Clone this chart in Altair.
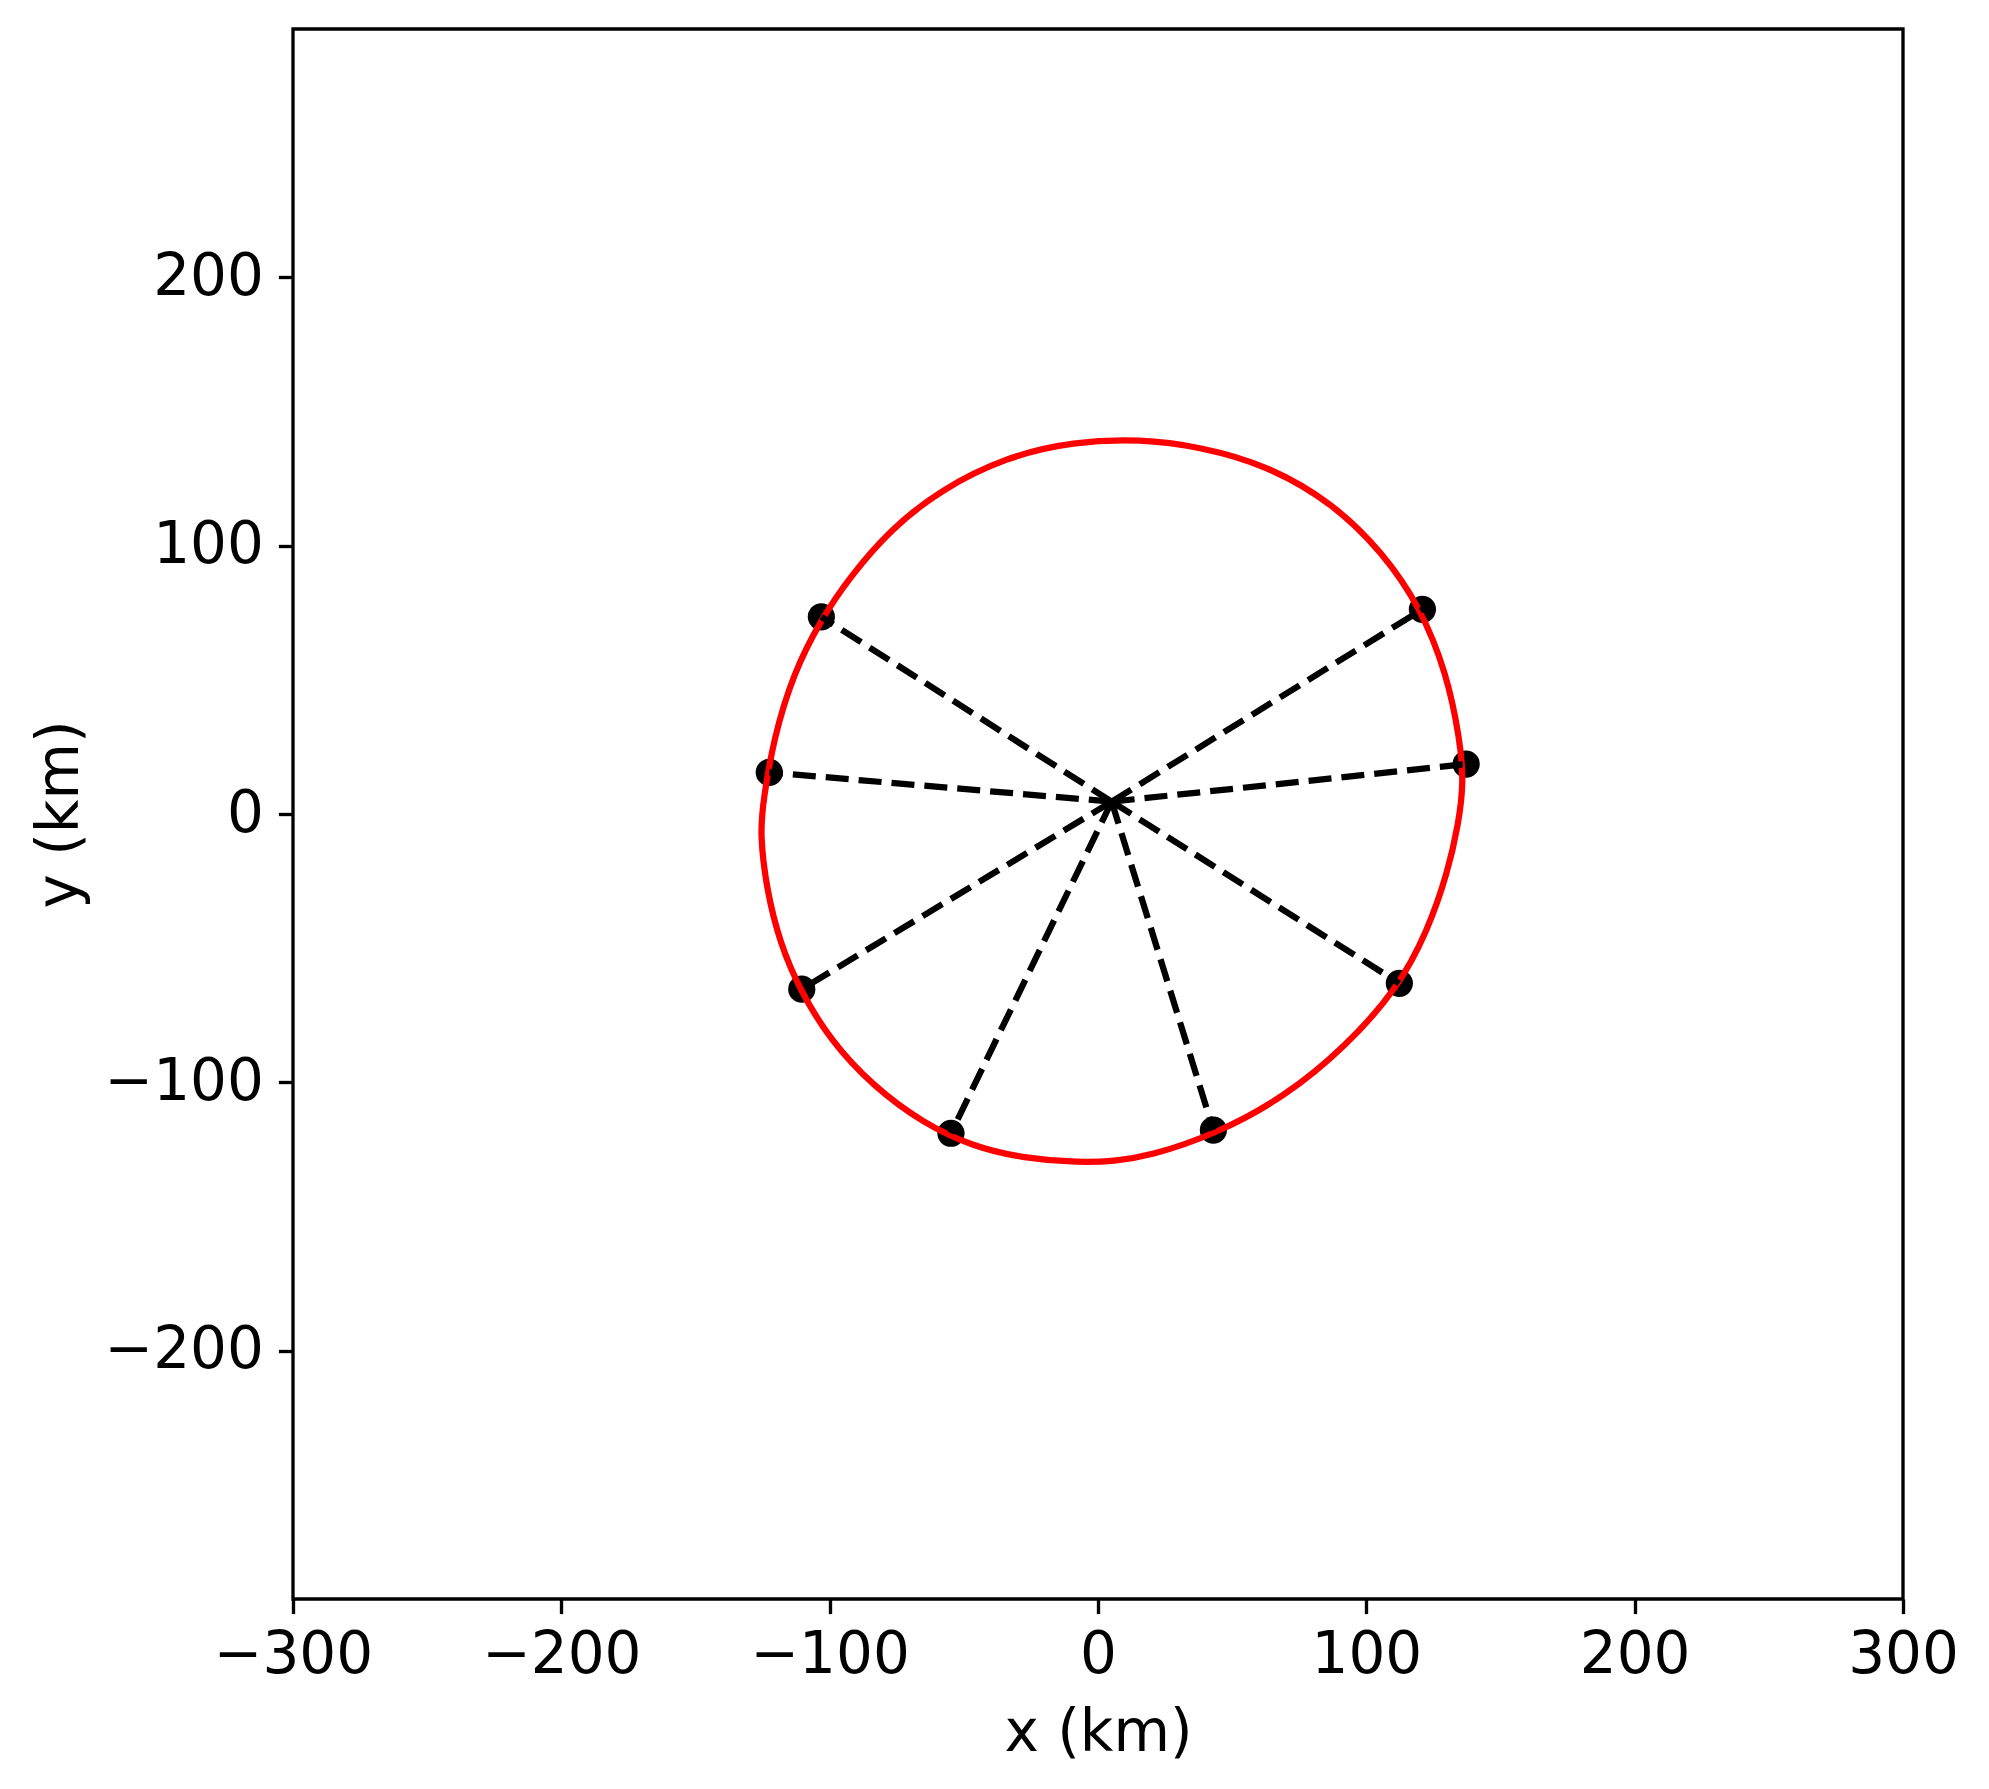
import altair as alt
import pandas as pd

# Stations (black dots) and the common centre of the dashed spokes
station_x = [120.9, 137.2, 112.3, 43.0, -54.8, -110.4, -122.5, -103.1]
station_y = [76.3, 18.6, -63.1, -117.8, -119.0, -65.3, 15.5, 73.5]
center_x = 5.1
center_y = 4.6

# Red closed curve (counter-clockwise)
ellipse_x = [136.3, 134.9, 130.0, 120.0, 106.3, 87.7, 62.9, 38.0, 15.7, -9.2,
             -34.0, -58.9, -77.5, -92.4, -103.0, -113.6, -121.0, -124.7, -126.0,
             -123.5, -118.5, -111.1, -99.9, -83.7, -65.1, -46.5, -27.8, -6.7,
             6.0, 19.4, 43.3, 69.8, 92.4, 111.8, 122.8, 130.2, 134.4]
ellipse_y = [12.0, 27.6, 52.4, 77.3, 97.2, 115.8, 130.1, 136.9, 139.8, 138.8,
             133.2, 120.8, 105.9, 88.4, 72.9, 52.4, 27.6, 5.2, -7.2,
             -28.3, -48.2, -65.6, -84.2, -101.6, -115.3, -124.0, -128.3, -130.0,
             -129.4, -127.4, -119.6, -105.4, -86.6, -64.9, -43.6, -22.3, -3.5]

x_ticks = [-300, -200, -100, 0, 100, 200, 300]
y_ticks = [-200, -100, 0, 100, 200]
x_domain = [-300, 300]
y_domain = [-292.6, 292.6]

stations = pd.DataFrame({
    "x": station_x,
    "y": station_y,
    "cx": [center_x] * len(station_x),
    "cy": [center_y] * len(station_x),
})
ellipse = pd.DataFrame({"x": ellipse_x, "y": ellipse_y, "i": list(range(len(ellipse_x)))})

FONT = "DejaVu Sans"
label_expr = "replace(datum.label, '-', '\u2212')"

xscale = alt.Scale(domain=x_domain, nice=False, zero=False)
yscale = alt.Scale(domain=y_domain, nice=False, zero=False)

xaxis = alt.Axis(
    values=x_ticks, title="x (km)", labelExpr=label_expr,
    labelFlush=False, labelOverlap=False, labelBound=False,
    labelPadding=13, titleX=805, titleY=151, titleBaseline="alphabetic",
    titleAlign="center",
)
yaxis = alt.Axis(
    values=y_ticks, title="y (km)", labelExpr=label_expr,
    labelFlush=False, labelOverlap=False, labelBound=False,
    labelPadding=15, titleX=-216, titleY=785, titleAngle=270,
    titleBaseline="alphabetic", titleAlign="center",
)

dots = alt.Chart(stations).mark_circle(color="black", opacity=1, size=740).encode(
    x=alt.X("x:Q", scale=xscale, axis=xaxis),
    y=alt.Y("y:Q", scale=yscale, axis=yaxis),
)

curve = alt.Chart(ellipse).mark_line(
    color="red", strokeWidth=6.25, interpolate="basis-closed"
).encode(
    x=alt.X("x:Q", scale=xscale, axis=xaxis),
    y=alt.Y("y:Q", scale=yscale, axis=yaxis),
    order=alt.Order("i:Q"),
)

spokes = alt.Chart(stations).mark_rule(
    color="black", strokeWidth=6.25, strokeDash=[23, 10]
).encode(
    x=alt.X("cx:Q", scale=xscale, axis=xaxis),
    y=alt.Y("cy:Q", scale=yscale, axis=yaxis),
    x2="x:Q",
    y2="y:Q",
)

chart = alt.layer(dots, curve, spokes).properties(
    width=1610,
    height=1570,
    autosize=alt.AutoSizeParams(type="none"),
    padding={"left": 285, "top": 21, "right": 70, "bottom": 180},
    background="white",
).configure_view(
    stroke="black", strokeWidth=3.33, fill="white"
).configure_axis(
    domain=False, grid=False,
    ticks=True, tickColor="black", tickWidth=3.33, tickSize=14.6,
    labelFont=FONT, labelFontSize=58, labelColor="black",
    titleFont=FONT, titleFontSize=58, titleColor="black", titleFontWeight="normal",
)

chart.save("out.html", embed_options={"renderer": "svg", "actions": False})
